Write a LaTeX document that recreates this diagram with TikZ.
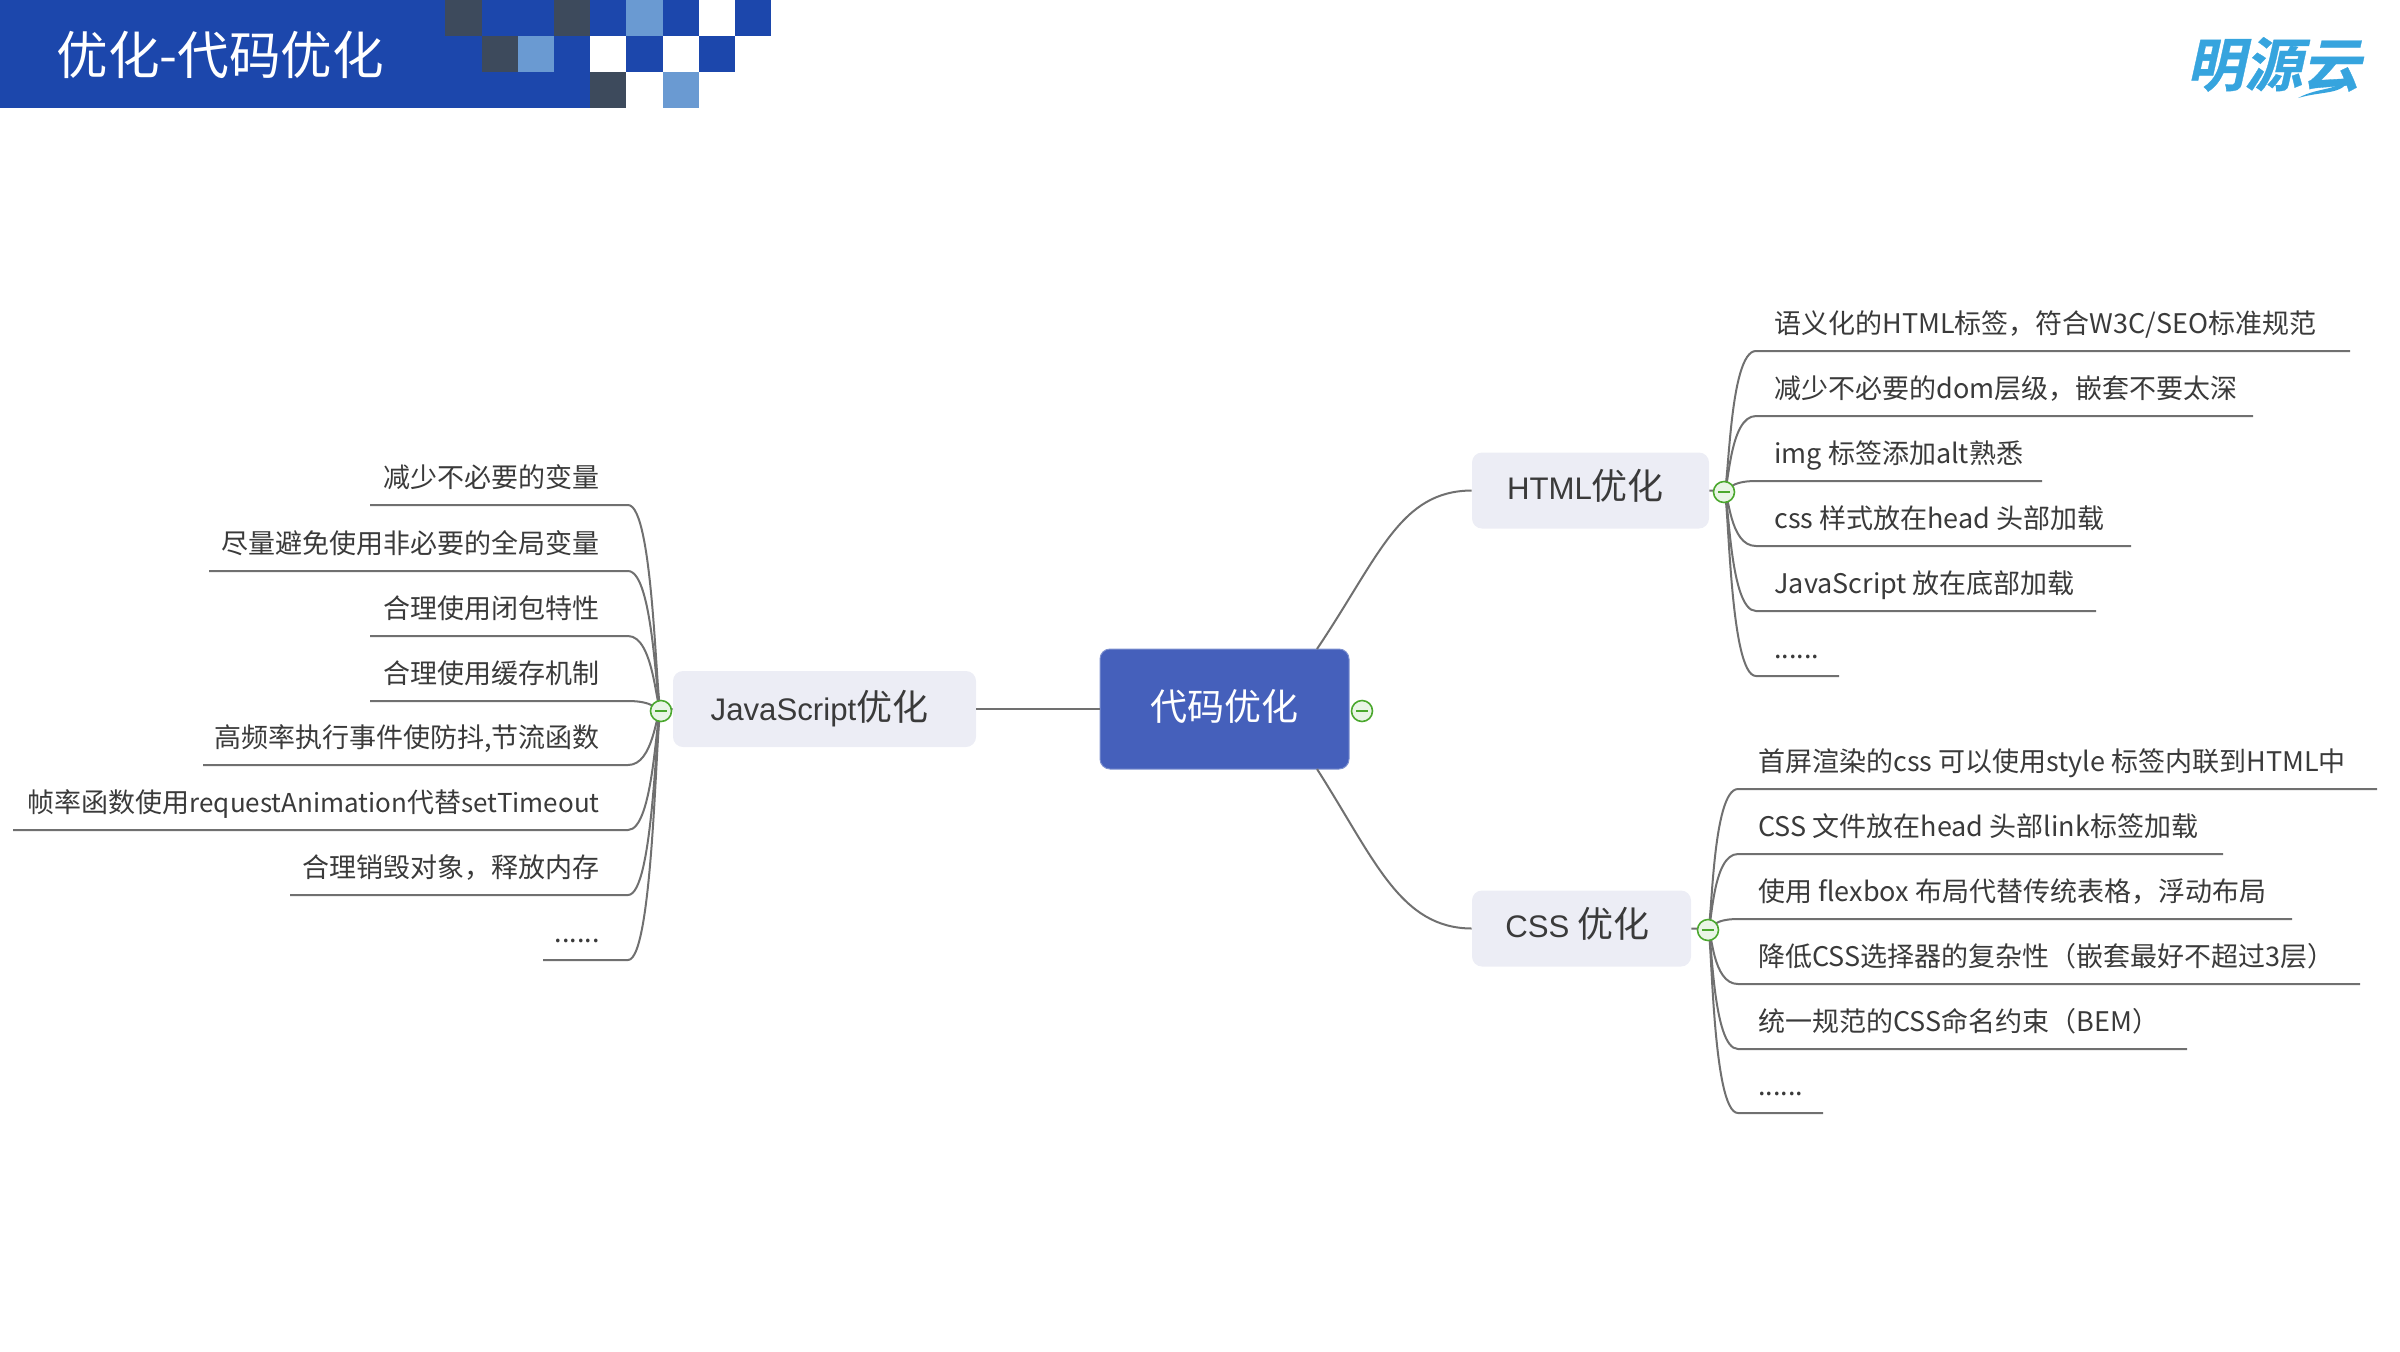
\documentclass[tikz,border=0pt]{standalone}
\usepackage{fontspec}
\setmainfont{Noto Sans CJK SC}
\newfontfamily\logofont[FakeSlant=0.22,FakeBold=0.6]{Noto Sans CJK SC Bold}
\newfontfamily\topiclatin{Liberation Sans}
\usetikzlibrary{calc}
\definecolor{barblue}{HTML}{1C47AC}
\definecolor{celldark}{HTML}{3D4A5C}
\definecolor{celllight}{HTML}{6A9AD2}
\definecolor{rootblue}{HTML}{4560BB}
\definecolor{topicgrey}{HTML}{ECEDF5}
\definecolor{linegrey}{HTML}{707070}
\definecolor{textgrey}{HTML}{3A3A3A}
\definecolor{foldgreen}{HTML}{4BA82E}
\definecolor{logoblue}{HTML}{36A4DE}
\newcommand{\leafdots}{.\kern0pt.\kern0pt.\kern0pt.\kern0pt.\kern0pt.}
\newcommand{\topicword}[1]{{\topiclatin\fontsize{15.6}{22}\selectfont #1}}
\tikzset{
    cell/.style={minimum width=18.1pt, minimum height=18pt, inner sep=0pt, anchor=north west},
    rootbox/.style={fill=rootblue, draw=rootblue!70!white, line width=0.5pt, rounded corners=5pt, text=white, minimum width=124.5pt, minimum height=60pt, inner sep=0pt, font=\fontsize{18.5}{22}\selectfont},
    topicbox/.style={fill=topicgrey, rounded corners=5pt, text=textgrey, minimum height=38pt, inner sep=0pt, font=\fontsize{18}{22}\selectfont},
    leafright/.style={anchor=base west, inner sep=0pt, text=textgrey, font=\fontsize{13.5}{16}\selectfont},
    leafleft/.style={anchor=base east, inner sep=0pt, text=textgrey, font=\fontsize{13.5}{16}\selectfont},
    branch/.style={draw=linegrey, line width=1pt},
    trunk/.style={draw=linegrey, line width=1pt},
    foldicon/.style={circle, draw=foldgreen, fill=foldgreen!12!white, line width=0.8pt, minimum size=10.5pt, inner sep=0pt},
    foldbar/.style={draw=foldgreen, line width=0.9pt},
}
\begin{document}
\begin{tikzpicture}[x=0.5pt, y=-0.5pt]
            \useasboundingbox (0,0) rectangle (2400,1351);

            % header
            \fill[barblue] (0,0) rectangle (590,108);
            \foreach \col/\row/\clr in {0/0/celldark, 3/0/celldark, 4/0/barblue, 5/0/celllight, 6/0/barblue, 8/0/barblue,
                    1/1/celldark, 2/1/celllight, 5/1/barblue, 7/1/barblue, 4/2/celldark, 6/2/celllight} {
                    \node[cell, fill=\clr] (cell\col\row) at (445+36.2*\col, 36*\row) {};
                }
            \node[anchor=base west, inner sep=0pt, text=white, font=\fontsize{25.8}{30}\selectfont] (title) at (56,74) {优化-代码优化};
            \node[anchor=base west, inner sep=0pt, text=logoblue, font=\logofont\fontsize{29}{30}\selectfont] (logo) at (2186,86) {明源云};
            \fill[logoblue] (2298,98) .. controls (2320,86) and (2340,92) .. (2350,74) .. controls (2347,96) and (2325,90) .. (2298,98);

            % topics
            \node[rootbox] (root) at (1224.5,709) {\raisebox{4.5pt}{代码优化}};
            \node[topicbox, minimum width=151.5pt] (js) at (824.5,709) {\hspace{-5pt}\raisebox{3pt}{\topicword{JavaScript}优化}};
            \node[topicbox, minimum width=118.5pt] (html) at (1590.5,490.5) {\hspace{-5pt}\raisebox{6pt}{\topicword{HTML}优化}};
            \node[topicbox, minimum width=109.5pt] (css) at (1581.5,928.5) {\hspace{-4pt}\raisebox{6pt}{\topicword{CSS} 优化}};

            \draw[trunk, line width=1.2pt] (js.east) -- (root.west);
            \coordinate (roottop) at (1317,649);
            \coordinate (rootbot) at (1317,769);
            \draw[trunk] (roottop) .. controls (1380,555) and (1400,491) .. (html.west);
            \draw[trunk] (rootbot) .. controls (1375,860) and (1400,928) .. (css.west);

            % html leaves
            \coordinate (joinhtml) at (1724,491);
            \draw[trunk] (html.east) -- (joinhtml);
            \foreach \i/\yy/\xend/\txt in {1/351/2350/{语义化的HTML标签，符合W3C{/}SEO标准规范},
                    2/416/2253/减少不必要的dom层级，嵌套不要太深,
                    3/481/2042/img 标签添加alt熟悉,
                    4/546/2131/css 样式放在head 头部加载,
                    5/611/2096/JavaScript 放在底部加载,
                    6/676/1839/\leafdots} {
                    \node[leafright] (h\i) at (1774,\yy-18) {\txt};
                    \coordinate (hs\i) at (1756,\yy);
                    \coordinate (he\i) at (\xend,\yy);
                    \draw[branch] (joinhtml) .. controls (1729,491) and (1729,\yy) .. (hs\i) -- (he\i);
                }

            % css leaves
            \coordinate (joincss) at (1708,929);
            \draw[trunk] (css.east) -- (joincss);
            \foreach \i/\yy/\xend/\txt in {1/789/2377/首屏渲染的css 可以使用style 标签内联到HTML中,
                    2/854/2223/CSS 文件放在head 头部link标签加载,
                    3/919/2292/使用 flexbox 布局代替传统表格，浮动布局,
                    4/984/2360/降低CSS选择器的复杂性（嵌套最好不超过3层）,
                    5/1049/2187/统一规范的CSS命名约束（BEM）,
                    6/1113/1823/\leafdots} {
                    \node[leafright] (c\i) at (1758,\yy-18) {\txt};
                    \coordinate (cs\i) at (1738,\yy);
                    \coordinate (ce\i) at (\xend,\yy);
                    \draw[branch] (joincss) .. controls (1712,929) and (1712,\yy) .. (cs\i) -- (ce\i);
                }

            % javascript leaves
            \coordinate (joinjs) at (661,710);
            \draw[trunk] (js.west) -- (joinjs);
            \foreach \i/\yy/\xend/\txt in {1/505/370/减少不必要的变量,
                    2/571/209/尽量避免使用非必要的全局变量,
                    3/636/370/合理使用闭包特性,
                    4/701/370/合理使用缓存机制,
                    5/765/203/{高频率执行事件使防抖,节流函数},
                    6/830/13/帧率函数使用{\fontsize{13}{16}\selectfont requestAnimation}代替{\fontsize{13}{16}\selectfont setTimeout},
                    7/895/290/合理销毁对象，释放内存,
                    8/960/543/\leafdots} {
                    \node[leafleft] (j\i) at (600,\yy-18) {\txt};
                    \coordinate (js\i) at (628,\yy);
                    \coordinate (je\i) at (\xend,\yy);
                    \draw[branch] (joinjs) .. controls (656,710) and (654,\yy) .. (js\i) -- (je\i);
                }

            % fold icons
            \foreach \n/\x/\y in {foldroot/1362/711, foldjs/661/711, foldhtml/1724/492, foldcss/1708/930} {
                    \node[foldicon] (\n) at (\x,\y) {};
                    \draw[foldbar] ([xshift=-3pt]\n.center) -- ([xshift=3pt]\n.center);
                }
        \end{tikzpicture}
\end{document}
